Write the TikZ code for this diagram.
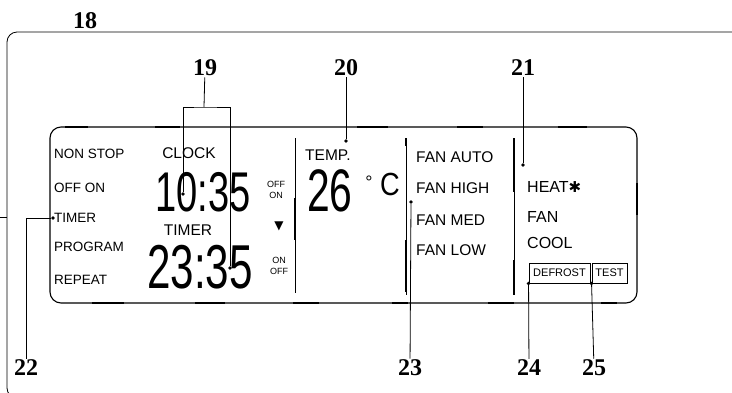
\documentclass[tikz,border=0pt]{standalone}
\usepackage{fontspec}
\setmainfont{Liberation Serif}
\newfontfamily\lcdfont{Liberation Sans}
\newfontfamily\symfont{DejaVu Sans}

\tikzset{
  num/.style={font=\fontsize{24}{24}\selectfont\bfseries, inner sep=1pt},
  lcd/.style={font=\lcdfont\fontsize{13.5}{14}\selectfont, anchor=west, inner sep=0pt},
  biglcd/.style={lcd, font=\lcdfont\fontsize{15.5}{16}\selectfont},
  modelcd/.style={lcd, font=\lcdfont\fontsize{16}{16}\selectfont},
  small/.style={font=\lcdfont\fontsize{9}{11}\selectfont, align=center, inner sep=0pt},
  seg/.style={font=\lcdfont\fontsize{#1}{#1}\selectfont, inner sep=0pt, xscale=0.68, transform shape},
  tag/.style={draw, line width=0.9pt, font=\lcdfont\fontsize{11}{11}\selectfont, inner sep=1pt, minimum height=20pt},
  dot/.style={circle, fill, inner sep=0pt, minimum size=3.8pt},
  leader/.style={line width=0.8pt},
  divider/.style={line width=0.9pt}
}

\begin{document}
\begin{tikzpicture}[x=1pt, y=-1pt]
\useasboundingbox (0,0) rectangle (732,392);

% cornice esterna
\draw[line width=0.8pt, rounded corners=10pt] (745,32) -- (7,32) -- (7,398) -- (30,398);
\draw[line width=0.8pt] (0,217) -- (7,217);

% display
\draw[line width=1.1pt, rounded corners=11pt] (50,127) -- (637,127) -- (637,303) -- (50,303) -- cycle;
\foreach \a/\b in {65/88, 155/180, 357/388, 457/483, 558/587}
  \draw[line width=2.4pt] (\a,127) -- (\b,127);
\foreach \a/\b in {92/124, 195/225, 293/319, 392/408, 488/514, 601/617}
  \draw[line width=2.4pt] (\a,303) -- (\b,303);
\draw[line width=2.4pt] (637,183) -- (637,215);

\draw[divider] (295,138) -- (295,293);
\draw[divider] (406,138) -- (406,295);
\draw[divider] (514,138) -- (514,295);
\draw[line width=2pt] (295,198) -- (295,240);
\draw[line width=2pt] (406,138) -- (406,146);
\draw[line width=2pt] (406,240) -- (406,292);
\draw[line width=2pt] (514,138) -- (514,192);
\draw[line width=2pt] (514,260) -- (514,295);

% testi colonna sinistra
\node[lcd] (nonstop) at (54,154) {NON STOP};
\node[lcd] (offon) at (54,188) {OFF ON};
\node[lcd] (timer) at (54,218) {TIMER};
\node[lcd] (program) at (54,247) {PROGRAM};
\node[lcd] (repeat) at (54,280) {REPEAT};

\node[biglcd, anchor=center] (clock) at (189,153) {CLOCK};
\node[seg=56] (clocktime) at (203,192) {10:35};
\node[biglcd, anchor=center] (timer2) at (188,230) {TIMER};
\node[seg=62] (timertime) at (200,267) {23:35};

\node[small] (offon2) at (276,190) {OFF\\ON};
\node[inner sep=0pt, font=\symfont\fontsize{12}{12}\selectfont] (arrow) at (279,226) {▼};
\node[small] (onoff) at (279,266) {ON\\OFF};

% temperatura
\node[biglcd] (temp) at (305,155) {TEMP.};
\node[seg=60] (tempval) at (330,191) {26};
\node[inner sep=0pt, font=\lcdfont\fontsize{18}{18}\selectfont] (deg) at (369,182) {°};
\node[seg=32, xscale=1.25] (cel) at (390,184) {C};

% ventola
\node[biglcd] (fanauto) at (416,157) {FAN AUTO};
\node[biglcd] (fanhigh) at (416,188) {FAN HIGH};
\node[biglcd] (fanmed) at (416,220) {FAN MED};
\node[biglcd] (fanlow) at (416,250) {FAN LOW};

% modo
\node[modelcd] (heat) at (527,187) {HEAT{\symfont\fontsize{15}{15}\selectfont ✱}};
\node[modelcd] (fan) at (527,217) {FAN};
\node[modelcd] (cool) at (527,243) {COOL};
\node[tag, minimum width=61pt] (defrost) at (559.5,273) {DEFROST};
\node[tag, minimum width=35pt] (test) at (609.5,273) {TEST};

% numeri
\node[num] (n18) at (85,21) {18};
\node[num] (n19) at (205,68) {19};
\node[num] (n20) at (346,68) {20};
\node[num] (n21) at (523,68) {21};
\node[num] (n22) at (26,368) {22};
\node[num] (n23) at (410,368) {23};
\node[num] (n24) at (529,368) {24};
\node[num] (n25) at (594,368) {25};

% punti
\node[dot] (d19a) at (183,194) {};
\node[dot] (d19b) at (230,268) {};
\node[dot] (d20) at (346,141) {};
\node[dot] (d21) at (523,165) {};
\node[dot] (d22) at (53,218) {};
\node[dot] (d23) at (411,202) {};
\coordinate (b19) at (204,107);

% linee
\draw[leader] (n19) -- (b19);
\draw[leader] (d19a) |- (b19) -| (d19b);
\draw[leader] (n20) -- (d20);
\draw[leader] (n21) -- (d21);
\draw[leader] (n22) |- (d22);
\draw[leader] (n23) -- (d23);
\draw[leader] (n24) -- (defrost.south west) node[dot] {};
\draw[leader] (n25) -- (test.south west) node[dot] {};

\end{tikzpicture}
\end{document}
